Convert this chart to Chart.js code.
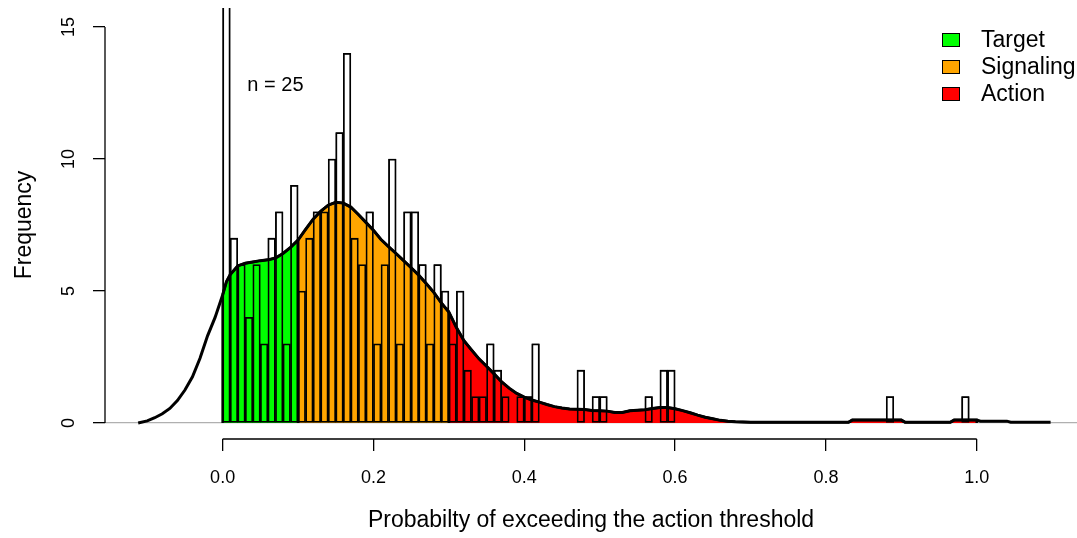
<!DOCTYPE html>
<html>
<head>
<meta charset="utf-8">
<script src="https://cdn.jsdelivr.net/npm/chart.js@4.4.1/dist/chart.umd.min.js"></script>
<style>
  html, body { margin: 0; padding: 0; background: #fff; }
  #wrap { width: 1077px; height: 538px; }
</style>
</head>
<body>
<div id="wrap"><canvas id="probHist" width="1077" height="538"></canvas></div>
<script>
// histogram bins (left edges) and counts per bin
const binWidth = 0.01;
const binLefts = [
  0.00, 0.01, 0.02, 0.03, 0.04, 0.05, 0.06, 0.07, 0.08, 0.09,
  0.10, 0.11, 0.12, 0.13, 0.14, 0.15, 0.16, 0.17, 0.18, 0.19,
  0.20, 0.21, 0.22, 0.23, 0.24, 0.25, 0.26, 0.27, 0.28, 0.29,
  0.30, 0.31, 0.32, 0.33, 0.34, 0.35, 0.36, 0.37, 0.38, 0.39,
  0.40, 0.41, 0.42, 0.43, 0.44, 0.45, 0.46, 0.47, 0.48, 0.49,
  0.50, 0.51, 0.52, 0.53, 0.54, 0.55, 0.56, 0.57, 0.58, 0.59,
  0.60, 0.61, 0.62, 0.63, 0.64, 0.65, 0.66, 0.67, 0.68, 0.69,
  0.70, 0.71, 0.72, 0.73, 0.74, 0.75, 0.76, 0.77, 0.78, 0.79,
  0.80, 0.81, 0.82, 0.83, 0.84, 0.85, 0.86, 0.87, 0.88, 0.89,
  0.90, 0.91, 0.92, 0.93, 0.94, 0.95, 0.96, 0.97, 0.98, 0.99
];
const counts = [
  25, 7, 6, 4, 6, 3, 7, 8, 3, 9,
  5, 7, 8, 8, 10, 11, 14, 7, 6, 8,
  3, 6, 10, 3, 8, 8, 6, 3, 6, 5,
  3, 5, 2, 1, 1, 3, 2, 1, 0, 1,
  1, 3, 0, 0, 0, 0, 0, 2, 0, 1,
  1, 0, 0, 0, 0, 0, 1, 0, 2, 2,
  0, 0, 0, 0, 0, 0, 0, 0, 0, 0,
  0, 0, 0, 0, 0, 0, 0, 0, 0, 0,
  0, 0, 0, 0, 0, 0, 0, 0, 1, 0,
  0, 0, 0, 0, 0, 0, 0, 0, 1, 0
];

// kernel density, scaled to frequency
const densX = [
  -0.112, -0.10, -0.09, -0.08, -0.07, -0.06, -0.05, -0.04, -0.03, -0.02, -0.01,
  0.00, 0.005, 0.01, 0.02, 0.03, 0.04, 0.05, 0.06, 0.07, 0.08, 0.09,
  0.10, 0.11, 0.12, 0.13, 0.14, 0.15, 0.16, 0.17, 0.18, 0.19,
  0.20, 0.21, 0.22, 0.23, 0.24, 0.25, 0.26, 0.27, 0.28, 0.29,
  0.30, 0.31, 0.32, 0.33, 0.34, 0.35, 0.36, 0.37, 0.38, 0.39,
  0.40, 0.41, 0.42, 0.43, 0.44, 0.45, 0.46, 0.47, 0.48, 0.49,
  0.50, 0.51, 0.52, 0.53, 0.54, 0.55, 0.56, 0.57, 0.58, 0.59,
  0.60, 0.61, 0.62, 0.63, 0.64, 0.65, 0.66, 0.67, 0.68, 0.70,
  0.80, 0.83, 0.835, 0.90, 0.905, 0.965, 0.97, 1.00, 1.005, 1.04, 1.045, 1.098
];
const densY = [
  0.00, 0.08, 0.20, 0.35, 0.55, 0.85, 1.25, 1.75, 2.45, 3.30, 4.00,
  4.85, 5.35, 5.62, 5.95, 6.05, 6.10, 6.15, 6.18, 6.25, 6.42, 6.65,
  6.93, 7.33, 7.72, 8.02, 8.25, 8.36, 8.33, 8.18, 7.90, 7.60,
  7.30, 6.95, 6.68, 6.42, 6.15, 5.88, 5.60, 5.28, 4.95, 4.55,
  4.20, 3.62, 3.12, 2.77, 2.43, 2.15, 1.86, 1.56, 1.32, 1.12,
  0.98, 0.87, 0.79, 0.70, 0.62, 0.57, 0.53, 0.52, 0.51, 0.47,
  0.46, 0.45, 0.40, 0.40, 0.46, 0.48, 0.50, 0.55, 0.59, 0.59,
  0.54, 0.47, 0.39, 0.30, 0.22, 0.16, 0.10, 0.07, 0.05, 0.03,
  0.03, 0.03, 0.11, 0.11, 0.03, 0.03, 0.11, 0.11, 0.07, 0.07, 0.03, 0.03
];

// shaded zones under the density curve
const zoneNames = ['Target', 'Signaling', 'Action'];
const zoneFrom = [0.0, 0.1, 0.3];
const zoneTo = [0.1, 0.3, 1.0];
const zoneColors = ['#00ff00', '#ffa500', '#ff0000'];

const xTicks = [0.0, 0.2, 0.4, 0.6, 0.8, 1.0];
const yTicks = [0, 5, 10, 15];

const FONT = '"Liberation Sans", Arial, sans-serif';

const histPoints = binLefts.map((b, i) => ({ x: b + binWidth / 2, y: counts[i] > 0 ? counts[i] : null }));
const curve = densX.map((x, i) => ({ x: x, y: densY[i] }));

function zonePolygon(lo, hi) {
  const inside = curve.filter(p => p.x >= lo && p.x <= hi);
  return [{ x: lo, y: 0 }].concat(inside, [{ x: hi, y: 0 }]);
}

const zoneSets = zoneNames.map((name, i) => ({
  type: 'line',
  label: name,
  data: zonePolygon(zoneFrom[i], zoneTo[i]),
  backgroundColor: zoneColors[i],
  borderColor: '#000',
  borderWidth: 2.5,
  pointRadius: 0,
  tension: 0,
  fill: 'origin',
  order: 5
}));

// histogram layers: white boxes below the shading, outlines above it
const barStyle = {
  type: 'bar',
  data: histPoints,
  borderColor: '#000',
  borderWidth: 1.1,
  borderSkipped: false,
  barPercentage: 1,
  categoryPercentage: 1,
  grouped: false,
  clip: { left: 0, top: 3, right: 0, bottom: 0 }
};

// R-style axis lines, legend and annotation
const extras = {
  id: 'extras',
  afterDatasetsDraw(chart) {
    const { ctx, scales: { x, y }, chartArea } = chart;
    ctx.save();
    ctx.strokeStyle = '#000';
    ctx.lineWidth = 1.3;
    ctx.beginPath();
    ctx.moveTo(x.getPixelForValue(xTicks[0]), chartArea.bottom);
    ctx.lineTo(x.getPixelForValue(xTicks[xTicks.length - 1]), chartArea.bottom);
    ctx.moveTo(chartArea.left, y.getPixelForValue(yTicks[0]));
    ctx.lineTo(chartArea.left, y.getPixelForValue(yTicks[yTicks.length - 1]));
    ctx.stroke();

    // n label beside the first bar
    ctx.fillStyle = '#000';
    ctx.font = '20px ' + FONT;
    ctx.textAlign = 'center';
    ctx.textBaseline = 'middle';
    ctx.fillText('n = ' + counts[0], x.getPixelForValue(0.07), y.getPixelForValue(12.8));

    // legend
    ctx.font = '23px ' + FONT;
    ctx.textAlign = 'left';
    zoneNames.forEach((name, i) => {
      const cy = 40 + i * 27;
      ctx.fillStyle = zoneColors[i];
      ctx.fillRect(942, cy - 7, 18, 14);
      ctx.lineWidth = 1;
      ctx.strokeRect(942.5, cy - 6.5, 17, 13);
      ctx.fillStyle = '#000';
      ctx.fillText(name, 981, cy + 1);
    });
    ctx.restore();
  }
};

new Chart(document.getElementById('probHist'), {
  data: {
    datasets: [
      Object.assign({}, barStyle, { backgroundColor: '#fff', order: 10 }),
      ...zoneSets,
      Object.assign({}, barStyle, { backgroundColor: 'rgba(0,0,0,0)', order: 3 }),
      {
        type: 'line',
        data: curve,
        borderColor: '#000',
        borderWidth: 3,
        pointRadius: 0,
        tension: 0,
        fill: false,
        order: 1
      }
    ]
  },
  options: {
    responsive: false,
    animation: false,
    layout: { padding: { top: 11, left: 0, right: 0, bottom: 0 } },
    plugins: { legend: { display: false }, tooltip: { enabled: false } },
    scales: {
      x: {
        type: 'linear',
        min: -0.156,
        max: 1.133,
        offset: false,
        afterBuildTicks: s => { s.ticks = xTicks.map(v => ({ value: v })); },
        afterFit: s => { s.height = 99; s.paddingLeft = 0; s.paddingRight = 0; },
        ticks: {
          autoSkip: false,
          maxRotation: 0,
          padding: 16,
          color: '#000',
          font: { family: FONT, size: 18 },
          callback: v => Number(v).toFixed(1)
        },
        grid: { display: true, offset: false, drawOnChartArea: false, drawTicks: true, tickLength: 12, tickColor: '#000', lineWidth: 1.3 },
        border: { display: false },
        title: {
          display: true,
          text: 'Probabilty of exceeding the action threshold',
          color: '#000',
          font: { family: FONT, size: 23 },
          padding: { top: 0, bottom: 4 }
        }
      },
      y: {
        type: 'linear',
        min: -0.606,
        max: 15.606,
        afterBuildTicks: s => { s.ticks = yTicks.map(v => ({ value: v })); },
        afterFit: s => { s.width = 105; s.paddingTop = 0; s.paddingBottom = 0; },
        ticks: {
          autoSkip: false,
          minRotation: 90,
          maxRotation: 90,
          crossAlign: 'center',
          padding: 14,
          color: '#000',
          font: { family: FONT, size: 18 }
        },
        grid: {
          drawTicks: true,
          tickLength: 12,
          tickColor: '#000',
          lineWidth: 1.3,
          color: c => (c.tick && c.tick.value === 0 ? '#b0b0b0' : 'rgba(0,0,0,0)')
        },
        border: { display: false },
        title: {
          display: true,
          text: 'Frequency',
          color: '#000',
          font: { family: FONT, size: 23 },
          padding: { top: 11, bottom: 0 }
        }
      }
    }
  },
  plugins: [extras]
});
</script>
</body>
</html>
